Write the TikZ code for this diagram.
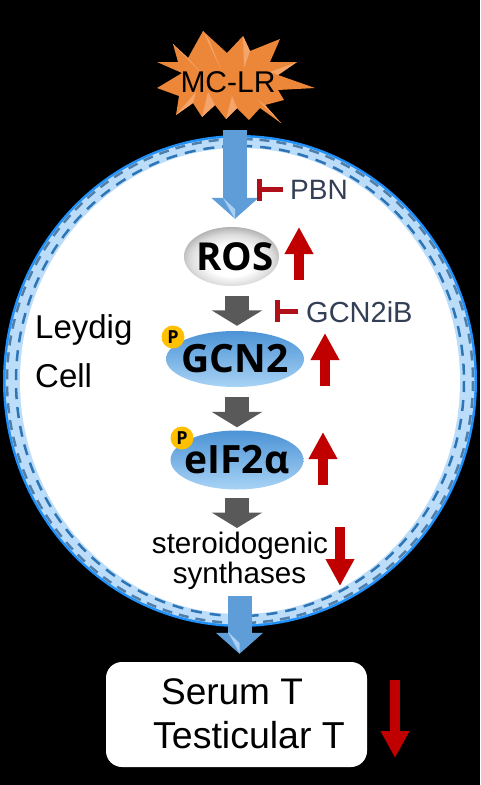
\documentclass[tikz,border=0pt]{standalone}
\usepackage{fontspec}
\setmainfont{Liberation Sans}
\newfontfamily\enzymefont{Open Sans}
\usetikzlibrary{arrows.meta,shapes.geometric}
\definecolor{memedge}{HTML}{2090FA}
\definecolor{memband}{HTML}{BBDDFA}
\definecolor{memdash}{HTML}{2E75B6}
\definecolor{memdashout}{HTML}{4F7FA8}
\definecolor{flowblue}{HTML}{5F9DD8}
\definecolor{flowlight}{HTML}{A9CFF2}
\definecolor{flowgrey}{HTML}{595959}
\definecolor{upred}{HTML}{C00000}
\definecolor{inhibred}{HTML}{B0101A}
\definecolor{drugtext}{HTML}{323F55}
\definecolor{burst}{HTML}{EC8638}
\definecolor{burstlight}{HTML}{F5A56A}
\definecolor{enzymetop}{HTML}{4C93D6}
\definecolor{enzymebot}{HTML}{A8D3F5}
\definecolor{phosphoyellow}{HTML}{FFC000}
\pgfdeclareradialshading{rosglow}{\pgfpoint{0bp}{-5bp}}{color(0bp)=(white);color(13bp)=(white);color(22bp)=(black!14);color(31bp)=(black!42);color(50bp)=(black!50)}
\tikzset{
  flowarrow/.style={line width=24pt,flowblue,-{Triangle[width=46pt,length=21pt]}},
  steparrow/.style={line width=24pt,flowgrey,-{Triangle[width=50pt,length=15.5pt]}},
  changearrow/.style={line width=9.5pt,upred,-{Triangle[width=27pt,length=27pt]}},
  inhibit/.style={line width=5pt,inhibred,-{Bar[width=22pt,line width=5pt]}},
  enzyme/.style={ellipse,inner xsep=-24pt,inner ysep=-12pt,top color=enzymetop,bottom color=enzymebot,font=\enzymefont\bfseries\fontsize{39}{39}\selectfont},
  phospho/.style={circle,inner sep=0pt,minimum size=23pt,fill=phosphoyellow,font=\enzymefont\bfseries\fontsize{18}{18}\selectfont},
  druglabel/.style={text=drugtext,inner sep=0pt,font=\fontsize{28}{28}\selectfont},
}
\begin{document}
\begin{tikzpicture}[x=1pt,y=-1pt]
  \useasboundingbox (0,0) rectangle (480,785);
  \fill[black] (0,0) rectangle (480,785);

  \fill[memedge] (240,381) ellipse [x radius=237,y radius=246];
  \fill[memband] (240,381) ellipse [x radius=234.5,y radius=243.5];
  \fill[white] (240,381) ellipse [x radius=220,y radius=233];
  \draw[memdashout,line width=2.5pt,dash pattern=on 10pt off 7pt] (240,381) ellipse [x radius=233,y radius=242];
  \draw[memdash,line width=2.5pt,dash pattern=on 11pt off 8pt] (240,381) ellipse [x radius=224,y radius=235];

  \fill[burst] (203,31)--(227,53)--(243,36)--(250,51)--(280,39)--(270,62)--(297,62)--(278,75)--(315,88)--(278,90)--(284,100)--(265,105)--(281,123)--(260,108)--(249,120)--(237,108)--(226,119)--(215,105)--(202,117)--(193,103)--(176,115)--(179,96)--(157,88)--(182,73)--(157,62)--(178,62)--(173,44)--(188,58)--cycle;
  \foreach \tipx/\tipy/\nx/\ny/\ix/\iy in {203/31/209/40/222/72,243/36/250/51/244/68,173/44/188/58/204/76,281/123/265/105/258/100,226/119/237/108/232/96,202/117/215/105/208/92,297/62/278/75/270/72,176/115/193/103/196/92}
    \fill[burstlight] (\tipx,\tipy)--(\nx,\ny)--(\ix,\iy)--cycle;

  \node[font=\fontsize{30}{30}\selectfont,text=black,inner sep=0pt] (mclr) at (228,82) {MC-LR};
  \coordinate (burstfoot) at (235,130);

  \node[ellipse,inner xsep=-20pt,inner ysep=-12pt,minimum width=95pt,minimum height=59pt,shading=rosglow,font=\enzymefont\bfseries\fontsize{38.5}{38.5}\selectfont] (ros) at (231.5,256.5) {\hspace{7pt}ROS};
  \node[enzyme,minimum width=138pt,minimum height=56pt] (gcn) at (235,359) {GCN2};
  \node[enzyme,minimum width=133pt,minimum height=59pt] (eif) at (237,460) {eIF2α};
  \node[phospho] (pgcn) at (173,337) {P};
  \node[phospho] (peif) at (182,438) {P};

  \node[anchor=base west,inner sep=0pt,font=\fontsize{33}{33}\selectfont] (leydig) at (35,338) {Leydig};
  \node[anchor=base west,inner sep=0pt,font=\fontsize{33}{33}\selectfont] (cell) at (35,387) {Cell};
  \node[anchor=base,inner sep=0pt,font=\fontsize{29.6}{29.6}\selectfont] (ster) at (240,553) {steroidogenic};
  \node[anchor=base,inner sep=0pt,font=\fontsize{29.6}{29.6}\selectfont] (syn) at (239.5,583) {synthases};

  \node[rectangle,rounded corners=16pt,fill=white,minimum width=261pt,minimum height=105pt] (box) at (236.5,714.5) {};
  \node[anchor=base,inner sep=0pt,font=\fontsize{37}{37}\selectfont] (serum) at (232,704) {Serum T};
  \node[anchor=base,inner sep=0pt,font=\fontsize{37.5}{37.5}\selectfont] (testis) at (249,748) {Testicular T};

  \draw[flowarrow,shorten >=8pt] (burstfoot)--(burstfoot |- ros.north);
  \coordinate (stepa) at (237,296);
  \coordinate (stepb) at (237,397);
  \coordinate (stepc) at (237,498);
  \draw[steparrow,shorten >=5pt] (stepa)--(stepa |- gcn.north);
  \draw[steparrow,shorten >=3pt] (stepb)--(stepb |- eif.north);
  \coordinate (sterhead) at (237,528);
  \draw[steparrow] (stepc)--(sterhead);
  \coordinate (synfoot) at (239.5,596);
  \draw[flowarrow,shorten >=8pt] (synfoot)--(synfoot |- box.north);

  \fill[flowlight] (223,198)--(235,219)--(235,209)--cycle;
  \fill[flowlight] (228,632)--(239.5,653)--(239.5,643)--cycle;

  \node[druglabel,anchor=west] (pbn) at (290,190) {PBN};
  \node[druglabel,anchor=west,font=\fontsize{29}{29}\selectfont] (gcninh) at (306,312) {GCN2iB};
  \coordinate (pbnbar) at (257,189.5);
  \coordinate (gcnbar) at (275,311);
  \coordinate (pbnstem) at (283,189.5);
  \coordinate (gcnstem) at (298,311);
  \draw[inhibit] (pbnstem)--(pbnbar);
  \draw[inhibit] (gcnstem)--(gcnbar);

  \coordinate (rosup) at (299,280);
  \coordinate (gcnup) at (325,386);
  \coordinate (eifup) at (323,485);
  \draw[changearrow] (rosup)--++(0,-53);
  \draw[changearrow] (gcnup)--++(0,-53);
  \draw[changearrow] (eifup)--++(0,-53);
  \coordinate (sterdown) at (340,527);
  \coordinate (serumdown) at (395,680);
  \draw[changearrow] (sterdown)--++(0,59);
  \draw[changearrow] (serumdown)--++(0,78);
\end{tikzpicture}
\end{document}
